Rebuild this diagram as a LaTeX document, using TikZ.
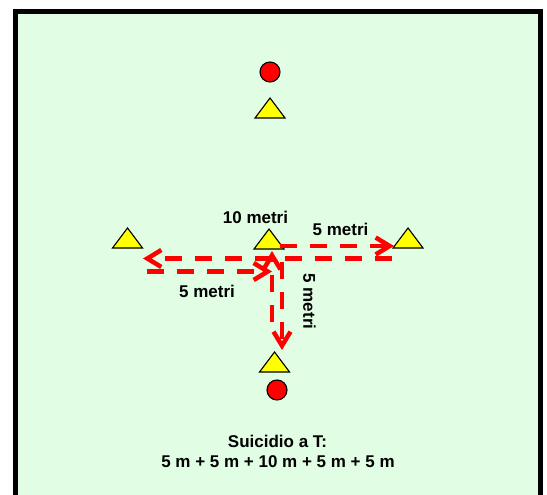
\documentclass[tikz,border=0pt]{standalone}
\usepackage{fontspec}
\setmainfont{Liberation Sans}
\usetikzlibrary{arrows.meta}
\definecolor{field}{HTML}{E1FDE3}
\definecolor{coneyellow}{HTML}{FFFF00}
\definecolor{runred}{HTML}{FF0000}
\tikzset{
 cone/.style={draw=black, fill=coneyellow, line width=1.1pt, line join=miter},
 ball/.style={circle, draw=black, fill=runred, line width=1.1pt, minimum size=20pt, inner sep=0pt},
 run/.style={draw=runred, line width=4.5pt, dash pattern=on 17pt off 13pt, -{Straight Barb[length=14pt,width=17pt,line width=4.5pt]}},
 lbl/.style={font=\bfseries\fontsize{17}{20}\selectfont, inner sep=0pt},
}
\begin{document}
\begin{tikzpicture}[x=1pt,y=-1pt]
\useasboundingbox (0,0) rectangle (547,495);
\fill[field] (15,12) rectangle (540.5,495);
\draw[line width=5pt, line join=miter] (15,500) -- (15,12) -- (540.5,12) -- (540.5,500);
% balls
\node[ball] (btop) at (270,72) {};
\node[ball] (bbot) at (277,390) {};
% cones
\coordinate (ctop) at (270,108);
\coordinate (cleft) at (127.5,238);
\coordinate (cmid) at (269,239);
\coordinate (cright) at (408,238);
\coordinate (cbot) at (274.5,362);
\foreach \c in {ctop,cleft,cmid,cright,cbot}
  \draw[cone, shift={(\c)}] (-15,10) -- (15,10) -- (0,-10) -- cycle;
% run path
\coordinate (p1s) at (272,322);
\coordinate (p1e) at (272,251);
\coordinate (p2s) at (280,246);
\coordinate (p2e) at (394,246);
\coordinate (p3s) at (392,258.5);
\coordinate (p3e) at (143,258.5);
\coordinate (p4s) at (147,271.5);
\coordinate (p4e) at (272,271.5);
\coordinate (p5s) at (282,262);
\coordinate (p5e) at (282,350);
\draw[run] (p1s) -- (p1e);
\draw[run] (p2s) -- (p2e);
\draw[run] (p3s) -- (p3e);
\draw[run] (p4s) -- (p4e);
\draw[run] (p5s) -- (p5e);
% labels
\node[lbl, anchor=base] (l10) at (255.5,223) {10 metri};
\node[lbl, anchor=base] (l5a) at (340.5,235) {5 metri};
\node[lbl, anchor=base] (l5b) at (207,297) {5 metri};
\node[lbl, rotate=-90] (l5c) at (309.5,301.5) {5 metri};
\node[lbl, anchor=base] (t1) at (277.5,447) {Suicidio a T:};
\node[lbl, anchor=base] (t2) at (278,467) {5 m + 5 m + 10 m + 5 m + 5 m};
\end{tikzpicture}
\end{document}
